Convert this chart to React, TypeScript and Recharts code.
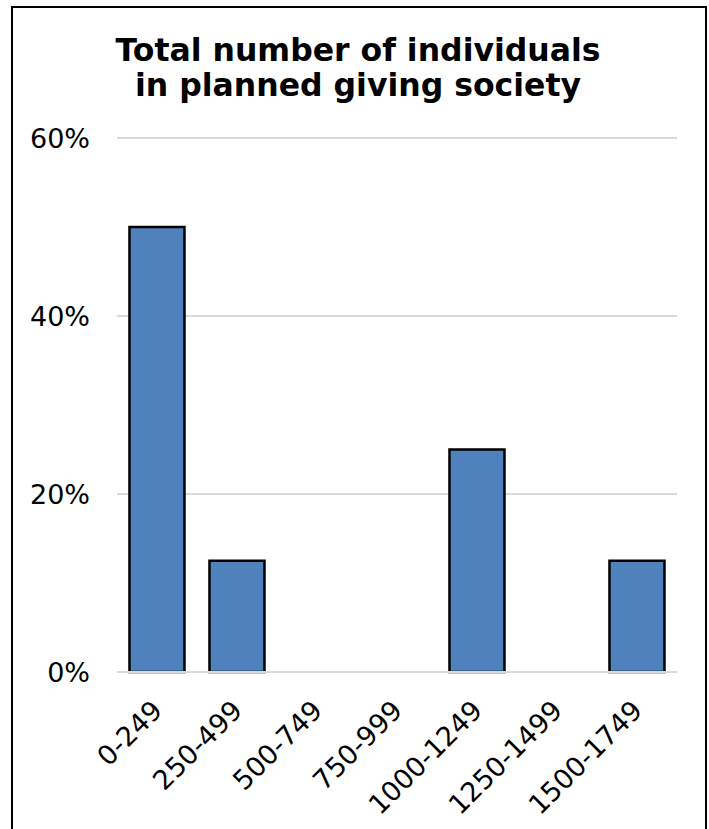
import React from "react";
import { BarChart, Bar, XAxis, YAxis, CartesianGrid } from "recharts";

const categories = ["0-249", "250-499", "500-749", "750-999", "1000-1249", "1250-1499", "1500-1749"];
const shares = [0.5, 0.125, 0, 0, 0.25, 0, 0.125];
const yTicks = [0, 0.2, 0.4, 0.6];
const titleLines = ["Total number of individuals", "in planned giving society"];

const data = categories.map((c, i) => ({ name: c, value: shares[i] }));

const FONT = "'DejaVu Sans', Verdana, sans-serif";

const XTick = (props: any) => {
  const { x, y, payload } = props;
  const ax = x + 7;
  const ay = y + 40;
  return (
    <text
      x={ax}
      y={ay}
      textAnchor="end"
      transform={`rotate(-45, ${ax}, ${ay})`}
      fontFamily={FONT}
      fontSize={27}
      fill="#000"
    >
      {payload.value}
    </text>
  );
};

export default function App() {
  return (
    <div style={{ position: "absolute", left: 0, top: 0, width: 709, height: 829, overflow: "hidden", background: "#fff" }}>
      <div
        style={{
          position: "absolute",
          left: 11,
          top: 6,
          width: 696,
          height: 900,
          border: "2px solid #000",
          boxSizing: "border-box",
        }}
      />
      <div
        style={{
          position: "absolute",
          left: 0,
          top: 33,
          width: 716,
          textAlign: "center",
          fontFamily: FONT,
          fontWeight: "bold",
          fontSize: 31.5,
          lineHeight: "35px",
          color: "#000",
        }}
      >
        {titleLines.map((l) => (
          <div key={l}>{l}</div>
        ))}
      </div>
      <div style={{ position: "absolute", left: 0, top: 0 }}>
        <BarChart
          width={709}
          height={829}
          data={data}
          margin={{ top: 138, right: 32, bottom: 127, left: 0 }}
          barCategoryGap="15.6%"
        >
          <CartesianGrid vertical={false} stroke="#d9d9d9" strokeWidth={2} />
          <XAxis
            dataKey="name"
            height={30}
            interval={0}
            tickLine={false}
            tickSize={0}
            tickMargin={0}
            axisLine={{ stroke: "#d9d9d9", strokeWidth: 2 }}
            tick={<XTick />}
          />
          <YAxis
            width={117}
            domain={[0, 0.6]}
            ticks={yTicks}
            axisLine={false}
            tickLine={false}
            tickSize={0}
            tickMargin={27}
            tickFormatter={(v: number) => `${Math.round(v * 100)}%`}
            tick={{ fontFamily: FONT, fontSize: 27, fill: "#000" }}
          />
          <Bar dataKey="value" fill="#4F81BD" stroke="#000" strokeWidth={2.5} isAnimationActive={false} />
        </BarChart>
      </div>
    </div>
  );
}
